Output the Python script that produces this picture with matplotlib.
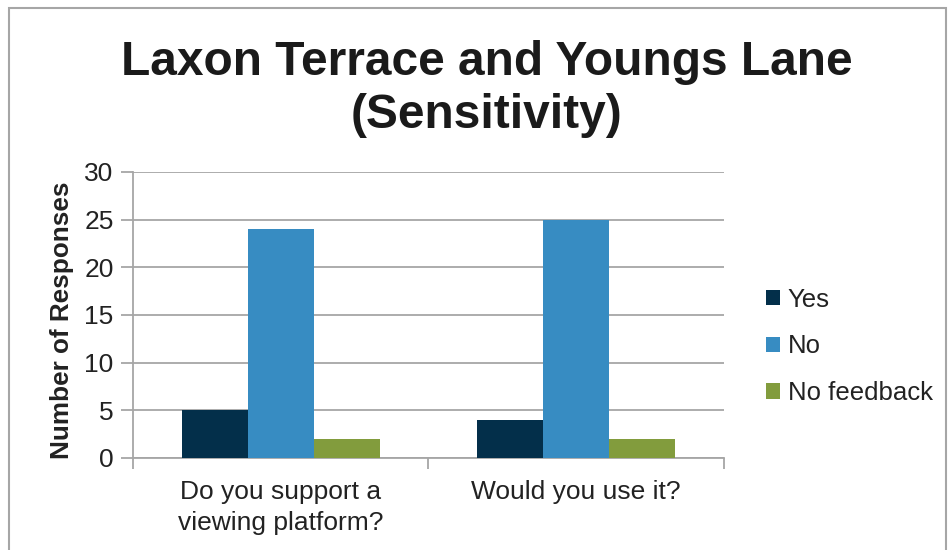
import matplotlib.pyplot as plt
import numpy as np
from matplotlib.patches import Rectangle

plt.rcParams['font.family'] = ['Liberation Sans', 'DejaVu Sans']

categories = ["Do you support a\nviewing platform?", "Would you use it?"]
series = ["Yes", "No", "No feedback"]
yes = [5, 4]
no = [24, 25]
no_feedback = [2, 2]
colors = ["#032f4a", "#378cc2", "#829c3d"]

fig = plt.figure(figsize=(9.49, 5.5), dpi=100)
ax = fig.add_axes([0.1401, 0.1673, 0.6228, 0.52])

x = np.arange(len(categories))
w = 0.223
for i, (vals, name) in enumerate(zip([yes, no, no_feedback], series)):
    ax.bar(x + (i - 1) * w, vals, w, color=colors[i], label=name, zorder=3)

ax.set_xlim(-0.5, 1.5)
ax.set_ylim(0, 30)
ax.set_yticks(range(0, 31, 5))
ax.grid(axis="y", color="#a6a6a6", linewidth=1.3, zorder=0)

for s in ["top", "right"]:
    ax.spines[s].set_visible(False)
for s in ["left", "bottom"]:
    ax.spines[s].set_color("#a6a6a6")
    ax.spines[s].set_linewidth(1.3)

ax.set_xticks([-0.5, 0.5, 1.5], minor=False)
ax.set_xticklabels([])
ax.set_xticks(x, minor=True)
ax.set_xticklabels(categories, minor=True, fontsize=19, color="#222222",
                   linespacing=1.35)
ax.tick_params(axis="x", which="minor", length=0, pad=16)
ax.tick_params(axis="x", which="major", length=8, color="#a6a6a6", width=1.3)
ax.tick_params(axis="y", length=9, color="#a6a6a6", width=1.3, labelsize=19,
               labelcolor="#222222", pad=5)

ax.set_ylabel("Number of Responses", fontsize=18.8, fontweight="bold",
              color="#222222")
ax.yaxis.set_label_coords(-0.10, 0.48)

fig.text(0.513, 1 - 89 / 550, "Laxon Terrace and Youngs Lane\n(Sensitivity)",
         fontsize=34.5, fontweight="bold", color="#1a1a1a", ha="center",
         va="center", linespacing=1.25)

leg = ax.legend(loc="center left", bbox_to_anchor=(1.032, 0.39), frameon=False,
                fontsize=18.5, handlelength=0.55, handleheight=0.55,
                handletextpad=0.3, labelspacing=0.88)
for t in leg.get_texts():
    t.set_color("#222222")

fig.patches.append(Rectangle((9 / 949, -0.1), 937 / 949, 1.1 - 8 / 550,
                             transform=fig.transFigure, fill=False,
                             edgecolor="#a6a6a6", linewidth=1.5))

fig.savefig("out.png", dpi=100)
